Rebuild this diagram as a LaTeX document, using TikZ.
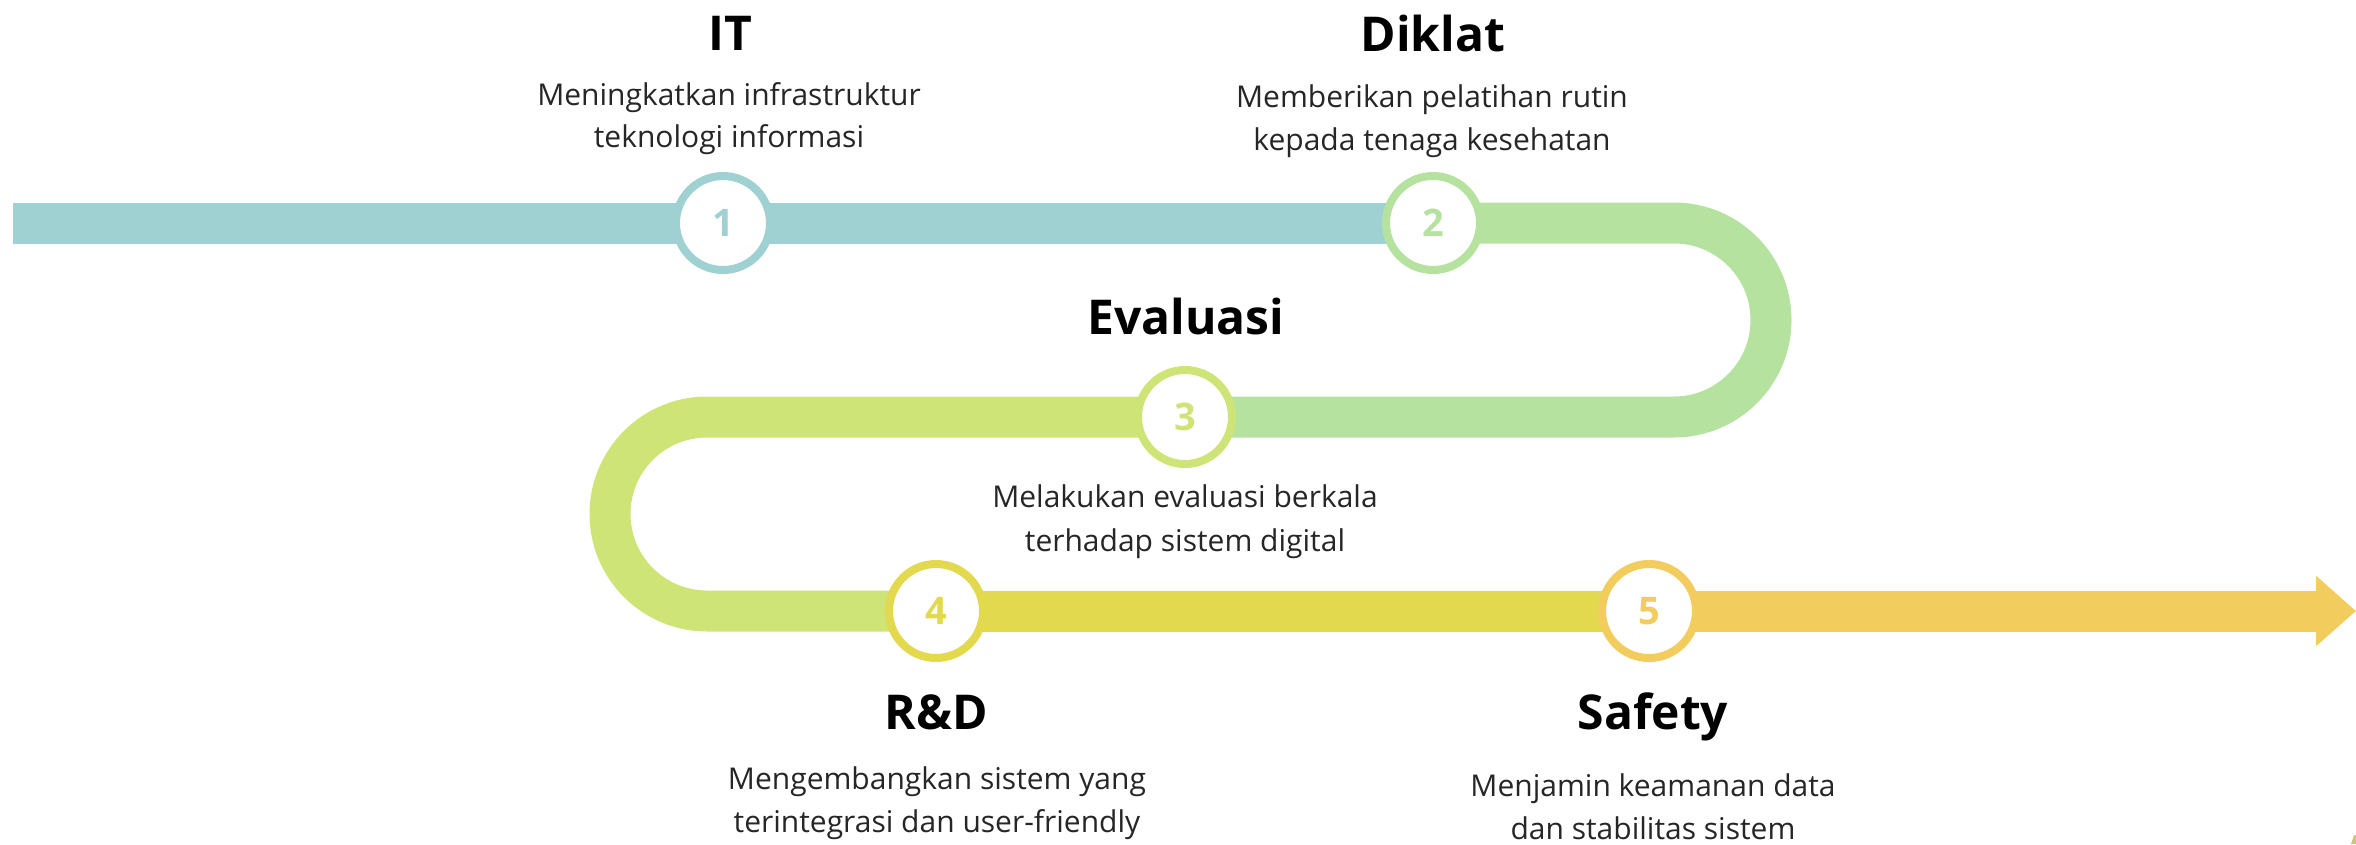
\documentclass[tikz,border=0pt]{standalone}
\usepackage{fontspec}
\setmainfont{Open Sans}
\usetikzlibrary{arrows.meta}
\pgfdeclarelayer{bg}
\pgfsetlayers{bg,main}
\definecolor{cTeal}{HTML}{9FD1D2}
\definecolor{cGreen}{HTML}{B5E29F}
\definecolor{cLime}{HTML}{CFE477}
\definecolor{cYellow}{HTML}{E2D94E}
\definecolor{cOrange}{HTML}{F2CC5C}
\definecolor{cText}{HTML}{262626}
\begin{document}
\begin{tikzpicture}[x=1pt,y=-1pt,
  band/.style={line width=41pt},
  stepcircle/.style={circle, draw=#1, line width=8pt, fill=white, minimum size=94pt, inner sep=0pt, text=#1, font=\fontsize{38}{44}\selectfont\bfseries},
  title/.style={anchor=base, font=\fontsize{48}{56}\selectfont\bfseries, text=black, inner sep=0pt},
  desc/.style={anchor=base, font=\fontsize{30}{35}\selectfont, text=cText, inner sep=0pt}]
\useasboundingbox (0,0) rectangle (2356,844);

\node[stepcircle=cTeal] (c1) at (723,223) {1};
\node[stepcircle=cGreen] (c2) at (1433,223) {2};
\node[stepcircle=cLime] (c3) at (1185,417) {3};
\node[stepcircle=cYellow] (c4) at (936,611) {4};
\node[stepcircle=cOrange] (c5) at (1649,611) {5};
\coordinate (start) at (13,223);
\coordinate (end) at (2356,611);

\begin{pgfonlayer}{bg}
\draw[band,cTeal] (start) -- (c2.center);
\draw[band,cGreen] (c2.center) -- (1674,223) arc[start angle=90,end angle=-90,radius=97pt] -- (c3.center);
\draw[band,cLime] (c3.center) -- (707,417) arc[start angle=90,end angle=270,radius=97pt] -- (c4.center);
\draw[band,cYellow] (c4.center) -- (c5.center);
\draw[band,cOrange,-{Triangle[length=40pt,width=68pt]}] (c5.center) -- (end);
\end{pgfonlayer}

\fill[cYellow!80!black!70] (2351,844) -- (2354,835) -- (2356,835) -- (2356,844) -- cycle;

\node[title] (t1) at (730,50) {IT};
\node[desc] (d1a) at (729,105) {Meningkatkan infrastruktur};
\node[desc] (d1b) at (729,147) {teknologi informasi};

\node[title] (t2) at (1433,51) {Diklat};
\node[desc] (d2a) at (1432,107) {Memberikan pelatihan rutin};
\node[desc] (d2b) at (1432,150) {kepada tenaga kesehatan};

\node[title] (t3) at (1186,334) {Evaluasi};
\node[desc] (d3a) at (1185,507) {Melakukan evaluasi berkala};
\node[desc] (d3b) at (1185,551) {terhadap sistem digital};

\node[title] (t4) at (936,729) {R\&D};
\node[desc] (d4a) at (937,789) {Mengembangkan sistem yang};
\node[desc] (d4b) at (937,832) {terintegrasi dan user-friendly};

\node[title] (t5) at (1653,729) {Safety};
\node[desc] (d5a) at (1653,796) {Menjamin keamanan data};
\node[desc] (d5b) at (1653,839) {dan stabilitas sistem};
\end{tikzpicture}
\end{document}
